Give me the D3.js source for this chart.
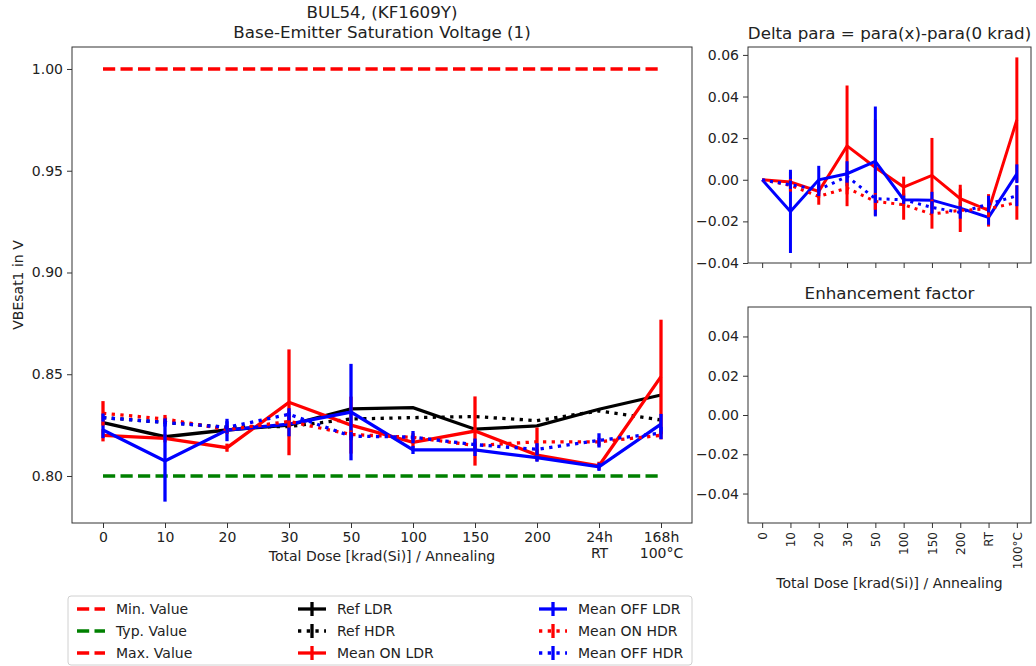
<!DOCTYPE html>
<html>
<head>
<meta charset="utf-8">
<script src="https://cdn.jsdelivr.net/npm/d3@7"></script>
<style>
  body { margin: 0; background: #fff; }
  svg { display: block; }
  text { font-family: "DejaVu Sans", sans-serif; fill: #222; }
</style>
</head>
<body>
<svg id="chart" width="1036" height="666"></svg>
<script>
// Measurement steps (total dose in krad(Si), then annealing steps)
const categories = ["0", "10", "20", "30", "50", "100", "150", "200", "24h\nRT", "168h\n100°C"];
const shortLabels = ["0", "10", "20", "30", "50", "100", "150", "200", "RT", "100°C"];

// Specification limits (V)
const limitMin = null;
const limitTyp = 0.80;
const limitMax = 1.00;

// VBEsat1 in V
const refLDR  = [0.8262, 0.8193, 0.8226, 0.8250, 0.8330, 0.8336, 0.8230, 0.8246, 0.8328, 0.8398];
const refHDR  = [0.8287, 0.8263, 0.8240, 0.8243, 0.8280, 0.8287, 0.8292, 0.8272, 0.8320, 0.8275];
const onLDR   = [0.8200, 0.8185, 0.8139, 0.8362, 0.8250, 0.8165, 0.8221, 0.8103, 0.8050, 0.8488];
const offLDR  = [0.8226, 0.8074, 0.8226, 0.8255, 0.8314, 0.8128, 0.8128, 0.8090, 0.8045, 0.8255];
const onHDR   = [0.8308, 0.8280, 0.8228, 0.8268, 0.8204, 0.8190, 0.8150, 0.8168, 0.8168, 0.8200];
const offHDR  = [0.8287, 0.8263, 0.8239, 0.8303, 0.8196, 0.8191, 0.8154, 0.8131, 0.8175, 0.8211];

// Standard deviations
const errRefLDR = [0, 0, 0, 0, 0, 0, 0, 0, 0, 0];
const errRefHDR = [0, 0, 0, 0, 0, 0, 0, 0, 0, 0];
const errOnLDR  = [0.003, 0.002, 0.002, 0.026, 0.014, 0.003, 0.017, 0.003, 0.002, 0.028];
const errOffLDR = [0.004, 0.020, 0.0055, 0.006, 0.0237, 0.002, 0.003, 0.002, 0.002, 0.005];
const errOnHDR  = [0.006, 0.002, 0.002, 0.003, 0.002, 0.002, 0.002, 0.007, 0.002, 0.002];
const errOffHDR = [0.002, 0.002, 0.003, 0.003, 0.002, 0.003, 0.003, 0.003, 0.0035, 0.003];

// Delta para = para(x) - para(0 krad)
const dOnLDR   = [0, -0.0011, -0.0056, 0.0163, 0.0059, -0.0035, 0.0021, -0.0091, -0.0147, 0.0288];
const dOffLDR  = [0, -0.0152, 0.0000, 0.0029, 0.0088, -0.0096, -0.0098, -0.0136, -0.0181, 0.0029];
const dOnHDR   = [0, -0.0027, -0.0080, -0.0040, -0.0104, -0.0120, -0.0165, -0.0147, -0.0140, -0.0109];
const dOffHDR  = [0, -0.0024, -0.0048, 0.0016, -0.0091, -0.0096, -0.0133, -0.0157, -0.0117, -0.0077];
const deOnLDR  = [0, 0.005, 0.003, 0.029, 0.023, 0.005, 0.018, 0.0067, 0.0078, 0.030];
const deOffLDR = [0, 0.020, 0.0067, 0.006, 0.0264, 0.003, 0.004, 0.003, 0.0035, 0.0045];
const deOnHDR  = [0, 0.003, 0.004, 0.003, 0.004, 0.0072, 0.007, 0.0104, 0.004, 0.0083];
const deOffHDR = [0, 0.002, 0.003, 0.003, 0.002, 0.002, 0.003, 0.003, 0.004, 0.005];

// Axis ticks
const mainYTicks = [0.80, 0.85, 0.90, 0.95, 1.00];
const deltaYTicks = [-0.04, -0.02, 0.00, 0.02, 0.04, 0.06];
const enhYTicks = [-0.04, -0.02, 0.00, 0.02, 0.04];

const RED = "#ff0000", BLUE = "#0000ff", BLACK = "#000000", GREEN = "#008000";
const FRAME = "#333";
const fmt2 = v => d3.format(".2f")(v).replace("-", "\u2212");

const svg = d3.select("#chart");

// ---------- panel geometry ----------
const mainBox  = { l: 72,  r: 692,  t: 47,  b: 523 };
const deltaBox = { l: 748, r: 1031, t: 47,  b: 263 };
const enhBox   = { l: 748, r: 1031, t: 307, b: 523 };

const xMain  = d3.scaleLinear().domain([-0.5, 9.5]).range([mainBox.l, mainBox.r]);
const yMain  = d3.scaleLinear().domain([0.7769, 1.0108]).range([mainBox.b, mainBox.t]);
const xDelta = d3.scaleLinear().domain([-0.5, 9.5]).range([deltaBox.l, deltaBox.r]);
const yDelta = d3.scaleLinear().domain([-0.0400, 0.0638]).range([deltaBox.b, deltaBox.t]);
const xEnh   = d3.scaleLinear().domain([-0.5, 9.5]).range([enhBox.l, enhBox.r]);
const yEnh   = d3.scaleLinear().domain([-0.055, 0.055]).range([enhBox.b, enhBox.t]);

function frame(box) {
  svg.append("rect")
    .attr("x", box.l).attr("y", box.t)
    .attr("width", box.r - box.l).attr("height", box.b - box.t)
    .attr("fill", "none").attr("stroke", FRAME).attr("stroke-width", 1);
}

function styleAxis(g) {
  g.select(".domain").remove();
  g.selectAll(".tick line").attr("stroke", FRAME).attr("stroke-width", 1);
  g.selectAll(".tick text").attr("font-size", 14).attr("fill", "#222")
    .attr("font-family", "DejaVu Sans, sans-serif");
}

function drawSeries(g, x, y, vals, errs, color, dash, lw) {
  const pts = vals.map((v, i) => ({ i, v, e: errs[i] }));
  const line = d3.line().defined(d => d.v != null).x(d => x(d.i)).y(d => y(d.v));
  g.append("path").datum(pts)
    .attr("d", line).attr("fill", "none")
    .attr("stroke", color).attr("stroke-width", lw)
    .attr("stroke-linejoin", "miter")
    .attr("stroke-dasharray", dash);
  g.selectAll(null).data(pts.filter(d => d.e > 0)).join("line")
    .attr("x1", d => x(d.i)).attr("x2", d => x(d.i))
    .attr("y1", d => y(d.v - d.e)).attr("y2", d => y(d.v + d.e))
    .attr("stroke", color).attr("stroke-width", lw);
}

function drawLimit(g, x, y, v, color, lw) {
  if (v == null) return;
  const pts = categories.map((c, i) => ({ i, v }));
  g.append("path").datum(pts)
    .attr("d", d3.line().x(d => x(d.i)).y(d => y(d.v)))
    .attr("fill", "none").attr("stroke", color).attr("stroke-width", lw)
    .attr("stroke-dasharray", "12.2,5.3");
}

const DOT_MAIN = "3.3,5.4";
const LW = 3.3;

// ---------- main panel ----------
const gMain = svg.append("g");
drawLimit(gMain, xMain, yMain, limitMin, RED, LW);
drawLimit(gMain, xMain, yMain, limitTyp, GREEN, LW);
drawLimit(gMain, xMain, yMain, limitMax, RED, LW);
drawSeries(gMain, xMain, yMain, refLDR, errRefLDR, BLACK, null, LW);
drawSeries(gMain, xMain, yMain, refHDR, errRefHDR, BLACK, DOT_MAIN, LW);
drawSeries(gMain, xMain, yMain, onLDR, errOnLDR, RED, null, LW);
drawSeries(gMain, xMain, yMain, offLDR, errOffLDR, BLUE, null, LW);
drawSeries(gMain, xMain, yMain, onHDR, errOnHDR, RED, DOT_MAIN, LW);
drawSeries(gMain, xMain, yMain, offHDR, errOffHDR, BLUE, DOT_MAIN, LW);
frame(mainBox);

const axMainX = svg.append("g").attr("transform", `translate(0,${mainBox.b})`)
  .call(d3.axisBottom(xMain).tickValues(d3.range(categories.length))
    .tickFormat(i => categories[i]).tickSize(5).tickPadding(4));
styleAxis(axMainX);
axMainX.selectAll(".tick text").each(function(i) {
  const t = d3.select(this);
  const lines = categories[i].split("\n");
  t.text(null);
  lines.forEach((s, k) => {
    t.append("tspan").attr("x", 0).attr("dy", k === 0 ? "0.71em" : "1.17em").text(s);
  });
});

const axMainY = svg.append("g").attr("transform", `translate(${mainBox.l},0)`)
  .call(d3.axisLeft(yMain).tickValues(mainYTicks).tickFormat(fmt2).tickSize(5).tickPadding(4));
styleAxis(axMainY);

svg.append("text").attr("x", (mainBox.l + mainBox.r) / 2).attr("y", 18)
  .attr("text-anchor", "middle").attr("font-size", 16.7).text("BUL54, (KF1609Y)");
svg.append("text").attr("x", (mainBox.l + mainBox.r) / 2).attr("y", 38)
  .attr("text-anchor", "middle").attr("font-size", 16.7).text("Base-Emitter Saturation Voltage (1)");
svg.append("text").attr("x", (mainBox.l + mainBox.r) / 2).attr("y", 561)
  .attr("text-anchor", "middle").attr("font-size", 14).text("Total Dose [krad(Si)] / Annealing");
svg.append("text").attr("transform", `translate(23,${(mainBox.t + mainBox.b) / 2}) rotate(-90)`)
  .attr("text-anchor", "middle").attr("font-size", 14).text("VBEsat1 in V");

// ---------- delta panel ----------
const gDelta = svg.append("g");
const LWD = 3;
const DOT_D = "3,5";
drawSeries(gDelta, xDelta, yDelta, dOnLDR, deOnLDR, RED, null, LWD);
drawSeries(gDelta, xDelta, yDelta, dOffLDR, deOffLDR, BLUE, null, LWD);
drawSeries(gDelta, xDelta, yDelta, dOnHDR, deOnHDR, RED, DOT_D, LWD);
drawSeries(gDelta, xDelta, yDelta, dOffHDR, deOffHDR, BLUE, DOT_D, LWD);
frame(deltaBox);

const axDeltaX = svg.append("g").attr("transform", `translate(0,${deltaBox.b})`)
  .call(d3.axisBottom(xDelta).tickValues(d3.range(categories.length)).tickFormat("").tickSize(5));
styleAxis(axDeltaX);
const axDeltaY = svg.append("g").attr("transform", `translate(${deltaBox.l},0)`)
  .call(d3.axisLeft(yDelta).tickValues(deltaYTicks).tickFormat(fmt2).tickSize(5).tickPadding(4));
styleAxis(axDeltaY);
svg.append("text").attr("x", (deltaBox.l + deltaBox.r) / 2).attr("y", 39)
  .attr("text-anchor", "middle").attr("font-size", 16.7).text("Delta para = para(x)-para(0 krad)");

// ---------- enhancement factor panel ----------
frame(enhBox);
const axEnhX = svg.append("g").attr("transform", `translate(0,${enhBox.b})`)
  .call(d3.axisBottom(xEnh).tickValues(d3.range(shortLabels.length))
    .tickFormat(i => shortLabels[i]).tickSize(5).tickPadding(4));
styleAxis(axEnhX);
axEnhX.selectAll(".tick text")
  .attr("font-size", 12)
  .attr("transform", "rotate(-90)")
  .attr("text-anchor", "end")
  .attr("x", -9).attr("y", 0).attr("dy", "0.35em");
const axEnhY = svg.append("g").attr("transform", `translate(${enhBox.l},0)`)
  .call(d3.axisLeft(yEnh).tickValues(enhYTicks).tickFormat(fmt2).tickSize(5).tickPadding(4));
styleAxis(axEnhY);
svg.append("text").attr("x", (enhBox.l + enhBox.r) / 2).attr("y", 299)
  .attr("text-anchor", "middle").attr("font-size", 16.7).text("Enhancement factor");
svg.append("text").attr("x", (enhBox.l + enhBox.r) / 2).attr("y", 588)
  .attr("text-anchor", "middle").attr("font-size", 14).text("Total Dose [krad(Si)] / Annealing");

// ---------- legend ----------
const legendItems = [
  { label: "Min. Value",   color: RED,   dash: "12.2,5.3", err: false },
  { label: "Typ. Value",   color: GREEN, dash: "12.2,5.3", err: false },
  { label: "Max. Value",   color: RED,   dash: "12.2,5.3", err: false },
  { label: "Ref LDR",      color: BLACK, dash: null,       err: true },
  { label: "Ref HDR",      color: BLACK, dash: DOT_MAIN,   err: true },
  { label: "Mean ON LDR",  color: RED,   dash: null,       err: true },
  { label: "Mean OFF LDR", color: BLUE,  dash: null,       err: true },
  { label: "Mean ON HDR",  color: RED,   dash: DOT_MAIN,   err: true },
  { label: "Mean OFF HDR", color: BLUE,  dash: DOT_MAIN,   err: true }
];
const legBox = { l: 68, r: 692, t: 596, b: 665 };
svg.append("rect").attr("x", legBox.l).attr("y", legBox.t)
  .attr("width", legBox.r - legBox.l).attr("height", legBox.b - legBox.t)
  .attr("rx", 3).attr("fill", "#fff").attr("stroke", "#d0d0d0").attr("stroke-width", 1);
const colX = [77, 298, 539];
const rowY = [609, 631, 653];
legendItems.forEach((it, k) => {
  const cx = colX[Math.floor(k / 3)];
  const cy = rowY[k % 3];
  const g = svg.append("g");
  g.append("line").attr("x1", cx).attr("x2", cx + 28).attr("y1", cy).attr("y2", cy)
    .attr("stroke", it.color).attr("stroke-width", LW).attr("stroke-dasharray", it.dash);
  if (it.err) {
    g.append("line").attr("x1", cx + 14).attr("x2", cx + 14).attr("y1", cy - 7).attr("y2", cy + 7)
      .attr("stroke", it.color).attr("stroke-width", LW);
  }
  g.append("text").attr("x", cx + 39).attr("y", cy).attr("dy", "0.35em")
    .attr("font-size", 14).text(it.label);
});
</script>
</body>
</html>
